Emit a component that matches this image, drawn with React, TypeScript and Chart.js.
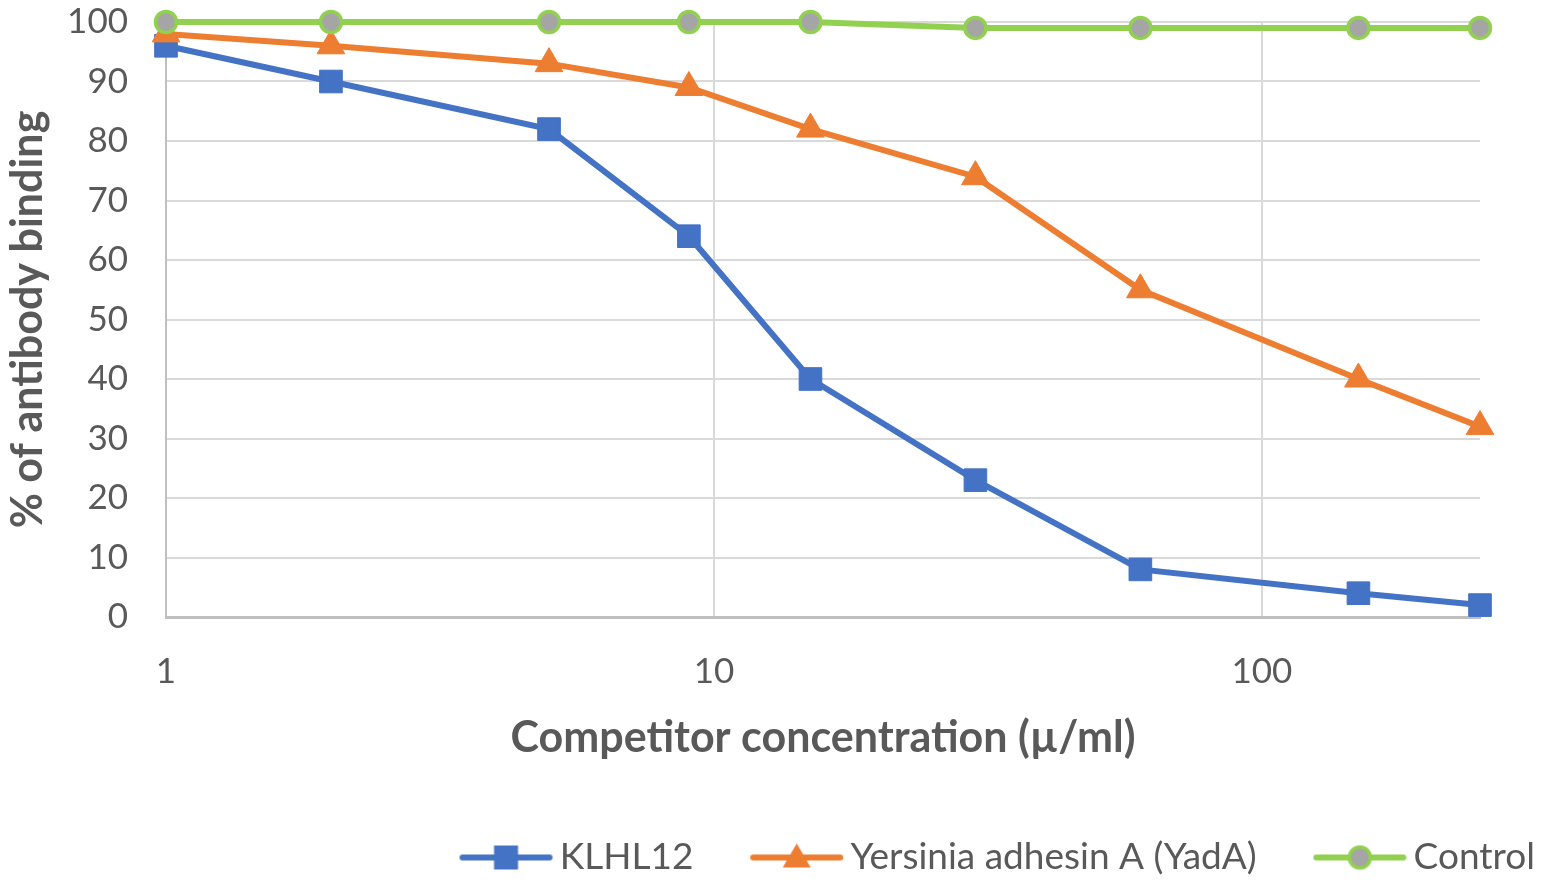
import { useRef, useEffect } from "react";
import { Chart, registerables } from "chart.js";

Chart.register(...registerables);

const concentrations = [1, 2, 5, 9, 15, 30, 60, 150, 250];
const klhl12 = [96, 90, 82, 64, 40, 23, 8, 4, 2];
const yada = [98, 96, 93, 89, 82, 74, 55, 40, 32];
const control = [100, 100, 100, 100, 100, 99, 99, 99, 99];
const xTicks = [1, 10, 100];
const seriesNames = ["KLHL12", "Yersinia adhesin A (YadA)", "Control"];

const BLUE = "#4472C4";
const ORANGE = "#ED7D31";
const GREEN = "#92D050";
const GREY = "#A5A5A5";
const TEXT = "#595959";
const FONT = "Lato, 'Noto Sans', sans-serif";

// legend swatch: line with marker, padded on the left so Chart.js spacing lines up
function legendIcon(kind: string) {
  const c = document.createElement("canvas");
  c.width = 155;
  c.height = 32;
  const ctx = c.getContext("2d")!;
  const color = kind === "rect" ? BLUE : kind === "triangle" ? ORANGE : GREEN;
  const x0 = 60;
  const x1 = 153;
  const cx = (x0 + x1) / 2;
  const cy = 16;
  ctx.strokeStyle = color;
  ctx.lineWidth = 6;
  ctx.lineCap = "round";
  ctx.beginPath();
  ctx.moveTo(x0 + 3, cy);
  ctx.lineTo(x1 - 3, cy);
  ctx.stroke();
  ctx.fillStyle = color;
  if (kind === "rect") {
    ctx.fillRect(cx - 12, cy - 12, 24, 24);
  } else if (kind === "triangle") {
    ctx.beginPath();
    ctx.moveTo(cx, cy - 14);
    ctx.lineTo(cx + 14, cy + 10);
    ctx.lineTo(cx - 14, cy + 10);
    ctx.closePath();
    ctx.fill();
  } else {
    ctx.beginPath();
    ctx.arc(cx, cy, 10.5, 0, Math.PI * 2);
    ctx.fillStyle = GREY;
    ctx.fill();
    ctx.lineWidth = 3.5;
    ctx.strokeStyle = GREEN;
    ctx.stroke();
  }
  return c;
}

export default function App() {
  const chartRef = useRef<HTMLCanvasElement>(null);
  const chartInstance = useRef<Chart | null>(null);

  useEffect(() => {
    if (!chartRef.current) return;
    const toPoints = (values: number[]) =>
      values.map((y, i) => ({ x: concentrations[i], y }));
    const icons = [legendIcon("rect"), legendIcon("triangle"), legendIcon("circle")];

    chartInstance.current = new Chart(chartRef.current, {
      type: "line",
      data: {
        datasets: [
          {
            label: seriesNames[0],
            data: toPoints(klhl12),
            borderColor: BLUE,
            backgroundColor: BLUE,
            borderWidth: 6,
            pointStyle: "rect",
            pointRadius: 16,
            pointBorderWidth: 1,
            pointBorderColor: BLUE,
            order: 3,
          },
          {
            label: seriesNames[1],
            data: toPoints(yada),
            borderColor: ORANGE,
            backgroundColor: ORANGE,
            borderWidth: 6,
            pointStyle: "triangle",
            pointRadius: 16,
            pointBorderWidth: 1,
            pointBorderColor: ORANGE,
            order: 2,
          },
          {
            label: seriesNames[2],
            data: toPoints(control),
            borderColor: GREEN,
            backgroundColor: GREY,
            borderWidth: 6,
            pointStyle: "circle",
            pointRadius: 10.5,
            pointBorderWidth: 3.5,
            pointBorderColor: GREEN,
            order: 1,
          },
        ],
      },
      options: {
        animation: false,
        responsive: true,
        maintainAspectRatio: false,
        clip: false,
        layout: { padding: { top: 22, right: 0, left: 0, bottom: 0 } },
        scales: {
          x: {
            type: "logarithmic",
            min: 1,
            max: 250,
            afterBuildTicks: (scale) => {
              scale.ticks = xTicks.map((v) => ({ value: v }));
            },
            afterFit: (scale) => {
              scale.height = 212;
              scale.paddingLeft = 0;
              scale.paddingRight = 65;
            },
            grid: {
              color: (ctx) => (ctx.tick && ctx.tick.value === 1 ? "rgba(0,0,0,0)" : "#D9D9D9"),
              lineWidth: 2,
              drawTicks: false,
            },
            border: { color: "#BFBFBF", width: 3 },
            ticks: {
              color: TEXT,
              font: { family: FONT, size: 35 },
              padding: 34,
              maxRotation: 0,
              callback: (v) => String(v),
            },
            title: {
              display: true,
              text: "Competitor concentration (µ/ml)",
              color: TEXT,
              font: { family: FONT, size: 43, weight: "bold" },
              padding: { top: 0, bottom: 65 },
            },
          },
          y: {
            min: 0,
            max: 100,
            afterFit: (scale) => {
              scale.width = 166;
              scale.paddingTop = 0;
              scale.paddingBottom = 0;
            },
            grid: { color: "#D9D9D9", lineWidth: 2, drawTicks: false },
            border: { color: "#BFBFBF", width: 2 },
            ticks: {
              stepSize: 10,
              color: TEXT,
              font: { family: FONT, size: 35 },
              padding: 38,
            },
            title: {
              display: true,
              text: "% of antibody binding",
              color: TEXT,
              font: { family: FONT, size: 43, weight: "bold" },
              padding: { top: 2, bottom: 0 },
            },
          },
        },
        plugins: {
          tooltip: { enabled: false },
          legend: {
            position: "bottom",
            align: "end",
            labels: {
              usePointStyle: true,
              pointStyleWidth: 128.5,
              boxHeight: 30,
              padding: 10,
              color: TEXT,
              font: { family: FONT, size: 37 },
              generateLabels: (chart) =>
                chart.data.datasets.map((ds, i) => ({
                  text: ds.label as string,
                  datasetIndex: i,
                  pointStyle: icons[i],
                  fillStyle: "transparent",
                  strokeStyle: "transparent",
                  lineWidth: 0,
                  hidden: false,
                  fontColor: TEXT,
                })),
            },
          },
        },
      },
    });

    return () => {
      if (chartInstance.current) {
        chartInstance.current.destroy();
        chartInstance.current = null;
      }
    };
  }, []);

  return (
    <div style={{ position: "fixed", left: 0, top: 0, width: 1545, height: 886, background: "#fff" }}>
      <canvas ref={chartRef} />
    </div>
  );
}
